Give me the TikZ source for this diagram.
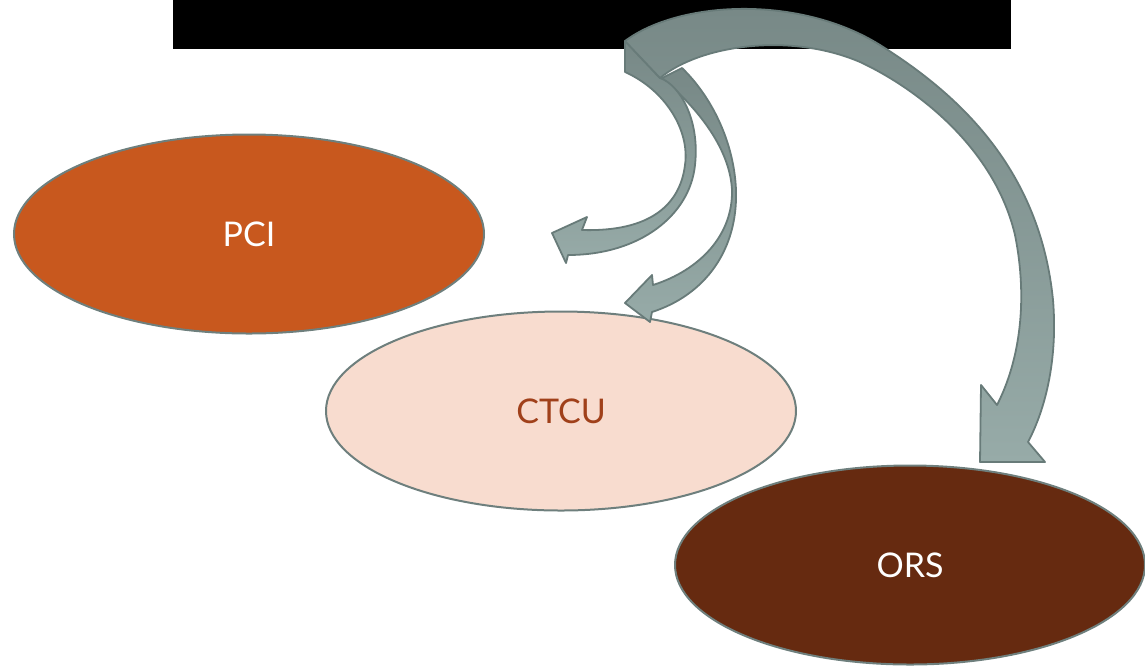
\documentclass[tikz,border=0pt]{standalone}
\usepackage{fontspec}
\setmainfont{Lato}
\usetikzlibrary{shapes.geometric}
\definecolor{pciorange}{HTML}{C8581E}
\definecolor{ctcupeach}{HTML}{F8DCCF}
\definecolor{ctcutext}{HTML}{A0401A}
\definecolor{orsbrown}{HTML}{662A10}
\definecolor{ovalline}{HTML}{6E7F7D}
\definecolor{arrowdark}{HTML}{778886}
\definecolor{arrowlight}{HTML}{97ABA8}
\definecolor{arrowline}{HTML}{687B79}
\begin{document}
\begin{tikzpicture}[
        x=1pt, y=-1pt,
        unit/.style={ellipse, draw=ovalline, line width=2pt, minimum width=470pt, minimum height=199pt, font=\fontsize{34}{40}\selectfont},
        bigarrow/.style={draw=arrowline, line width=1.8pt, line join=round, top color=arrowdark, bottom color=arrowlight}
    ]
    \useasboundingbox (0,0) rectangle (1145,665);
    % Title bar
    \fill[black] (173,0) rectangle (1011,49);
    % Nodes
    \node[unit, fill=pciorange, text=white] (pci) at (249,234) {PCI};
    \node[unit, fill=ctcupeach, text=ctcutext] (ctcu) at (561,411) {CTCU};
    \node[unit, fill=orsbrown, text=white] (ors) at (910,565) {ORS};
    % Arrows
    \path[bigarrow] (662,78) .. controls (700,110) and (730,150) .. (732,190)
        .. controls (733,235) and (700,270) .. (653,285) -- (652,275) -- (625,303) -- (650,322) -- (652,312)
        .. controls (705,295) and (738,250) .. (736,190)
        .. controls (734,140) and (710,95) .. (682,68) -- cycle;
    \path[bigarrow] (625,41) -- (625,72) .. controls (665,90) and (690,130) .. (685,165)
        .. controls (680,205) and (650,232) .. (582,230) -- (587,217) -- (552,233) -- (566,263) -- (568,255)
        .. controls (640,255) and (690,215) .. (695,165)
        .. controls (700,120) and (680,85) .. (660,78) -- cycle;
    \path[bigarrow] (625,41) .. controls (680,0) and (800,-5) .. (880,45)
        .. controls (960,95) and (1040,170) .. (1053,300)
        .. controls (1058,360) and (1045,410) .. (1028,442) -- (1045,462) -- (980,462) -- (981,385) -- (997,405)
        .. controls (1020,360) and (1028,300) .. (1015,235)
        .. controls (995,150) and (920,90) .. (860,62)
        .. controls (790,32) and (700,45) .. (660,78) -- cycle;
\end{tikzpicture}
\end{document}
